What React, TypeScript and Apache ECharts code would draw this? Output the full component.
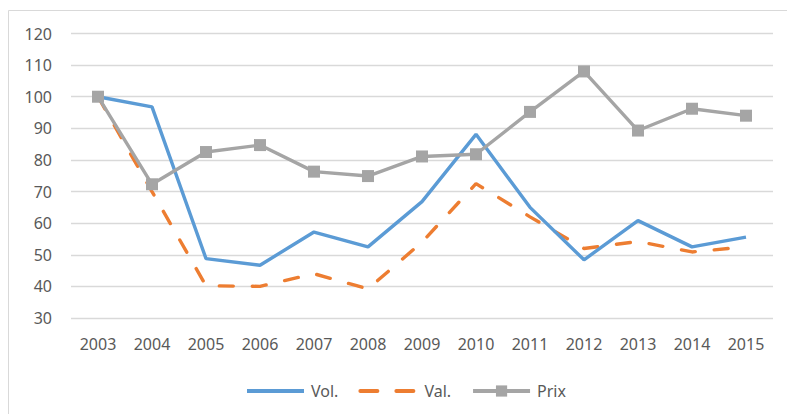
import React, { useEffect, useRef } from "react";
import * as echarts from "echarts";

const years = ["2003", "2004", "2005", "2006", "2007", "2008", "2009", "2010", "2011", "2012", "2013", "2014", "2015"];
const vol = [100, 96.8, 48.8, 46.7, 57.2, 52.5, 66.8, 88.1, 65, 48.4, 60.8, 52.5, 55.6];
const val = [100, 70, 40.2, 40, 44, 39.2, 54, 72.5, 62, 52, 54.2, 50.9, 52.5];
const prix = [100, 72.3, 82.5, 84.7, 76.3, 74.9, 81.1, 81.8, 95.2, 108, 89.3, 96.2, 94];

const textColor = "#595959";
const font = "Noto Sans";

export default function App() {
  const ref = useRef<HTMLDivElement>(null);
  useEffect(() => {
    if (!ref.current) return;
    const chart = echarts.init(ref.current, undefined, { renderer: "svg" });
    chart.setOption({
      animation: false,
      backgroundColor: "#ffffff",
      textStyle: { fontFamily: font },
      graphic: [
        {
          type: "rect",
          shape: { x: 8.5, y: 10.5, width: 800, height: 420 },
          style: { fill: "none", stroke: "#D9D9D9", lineWidth: 1 },
          silent: true,
        },
      ],
      grid: { left: 71, right: 14, top: 33.5, bottom: 96, containLabel: false },
      xAxis: {
        type: "category",
        data: years,
        boundaryGap: true,
        axisLine: { show: false },
        axisTick: { show: false },
        axisLabel: { color: textColor, fontSize: 16, fontFamily: font, margin: 18 },
        splitLine: { show: false },
      },
      yAxis: {
        type: "value",
        min: 30,
        max: 120,
        interval: 10,
        axisLine: { show: false },
        axisTick: { show: false },
        axisLabel: { color: textColor, fontSize: 16, fontFamily: font, margin: 19 },
        splitLine: { lineStyle: { color: "#D9D9D9", width: 1.3 } },
      },
      legend: {
        left: 240,
        top: 378,
        itemWidth: 57,
        itemHeight: 14,
        itemGap: 20,
        textStyle: { color: textColor, fontSize: 16, fontFamily: font, padding: [0, 0, 0, 2] },
        data: [
          { name: "Vol.", itemStyle: { opacity: 0 }, lineStyle: { width: 4 } },
          { name: "Val.", itemStyle: { opacity: 0 }, lineStyle: { width: 4, type: [17, 19] } },
          { name: "Prix", lineStyle: { width: 4 } },
        ],
      },
      series: [
        {
          name: "Vol.",
          type: "line",
          data: vol,
          symbol: "none",
          lineStyle: { color: "#5B9BD5", width: 3.4 },
          itemStyle: { color: "#5B9BD5" },
          z: 3,
        },
        {
          name: "Val.",
          type: "line",
          data: val,
          symbol: "none",
          lineStyle: { color: "#ED7D31", width: 3.4, type: [14, 19], cap: "round" },
          itemStyle: { color: "#ED7D31" },
          z: 2,
        },
        {
          name: "Prix",
          type: "line",
          data: prix,
          symbol: "rect",
          symbolSize: 12,
          lineStyle: { color: "#A5A5A5", width: 3.4 },
          itemStyle: { color: "#A5A5A5" },
          z: 4,
        },
      ],
    });
    return () => chart.dispose();
  }, []);
  return (
    <div
      ref={ref}
      style={{ position: "fixed", left: 0, top: 0, width: 787, height: 414 }}
    />
  );
}
